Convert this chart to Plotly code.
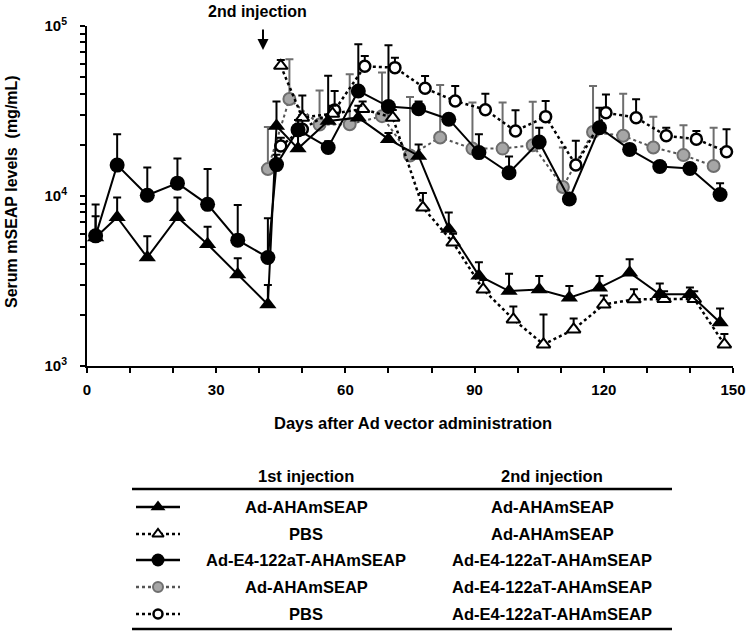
import plotly.graph_objects as go

# values (serum mSEAP, mg/mL) and upper SEM bars
days_tri = [2, 7, 14, 21, 28, 35, 42, 44, 49, 56, 63, 70, 77, 84, 91, 98, 105, 112, 119, 126, 133, 140, 147]
seap_tri = [5700, 7500, 4350, 7500, 5200, 3450, 2300, 25800, 19000, 27600, 28900, 21600, 17200, 6400,
            3400, 2760, 2820, 2520, 2890, 3540, 2640, 2640, 1800]
err_tri = [1900, 2300, 1450, 2300, 1400, 850, 700, 10200, 4000, 23400, 5100, 1900, 2900, 1600,
           670, 730, 560, 440, 490, 710, 420, 260, 380]

days_otri = [45, 50, 57, 64, 71, 78, 85, 92, 99, 106, 113, 120, 127, 134, 141, 148]
seap_otri = [58300, 28900, 30500, 32500, 28900, 8550, 5320, 2820, 1880, 1340, 1640, 2300, 2470, 2480, 2480, 1340]
err_otri = [4700, 10100, 3500, 3500, 3100, 1850, 680, 380, 360, 670, 260, 300, 360, 270, 270, 200]

days_circ = [2, 7, 14, 21, 28, 35, 42, 44, 49, 56, 63, 70, 77, 84, 91, 98, 105, 112, 119, 126, 133, 140, 147]
seap_circ = [5830, 15200, 10100, 11900, 8930, 5500, 4350, 15300, 24500, 19300, 41500, 33600, 32600, 28300,
             18000, 13700, 20800, 9600, 25200, 18800, 14900, 14500, 10200]
err_circ = [3070, 7900, 4600, 4700, 5470, 3350, 3050, 2200, 3500, 1700, 36500, 43400, 3400, 1700,
            5100, 3400, 4400, 600, 7800, 1200, 900, 1000, 1700]

days_gray = [42, 47, 54, 61, 68.5, 75, 82, 89.5, 96.5, 103.5, 110.5, 117.5, 124.5, 131.5, 138.5, 145.5]
seap_gray = [14400, 37200, 26300, 26400, 29500, 17300, 22100, 19000, 19000, 19900, 11300, 23800, 22600,
             19300, 17400, 15000]
err_gray = [11100, 26600, 15400, 25600, 23800, 20900, 22900, 16500, 16500, 15900, 8000, 20500, 17400,
            10000, 8700, 10200]

days_ocirc = [45, 50, 57.5, 64.5, 71.5, 78.5, 85.5, 92.5, 99.5, 106.5, 113.5, 120.5, 127.5, 134.5, 141.5, 148.5]
seap_ocirc = [19700, 24700, 32000, 57900, 56900, 43000, 36200, 32200, 24100, 29300, 15200, 30900, 28900,
              22600, 21600, 18200]
err_ocirc = [2300, 5300, 9500, 8800, 8200, 7800, 8100, 7800, 7800, 6900, 5900, 8700, 8200, 2600, 2500, 6500]

first_inj = ["Ad-AHAmSEAP", "PBS", "Ad-E4-122aT-AHAmSEAP", "Ad-AHAmSEAP", "PBS"]
second_inj = ["Ad-AHAmSEAP", "Ad-AHAmSEAP", "Ad-E4-122aT-AHAmSEAP", "Ad-E4-122aT-AHAmSEAP",
              "Ad-E4-122aT-AHAmSEAP"]

W, H = 747, 633
FONT = "Liberation Sans, Arial, sans-serif"
GRAY_ERR = "#6e6e6e"


def fx(px):
    return px / W


def fy(py):
    return 1 - py / H


# one style per group, in drawing order (bottom first)
styles = [
    dict(x=days_gray, y=seap_gray, e=err_gray, dash="dot", lc="#555555", lw=2, ec=GRAY_ERR,
         sym="circle", size=12, fill="#a6a6a6", mlc=GRAY_ERR, mlw=2, row=3),
    dict(x=days_ocirc, y=seap_ocirc, e=err_ocirc, dash="dot", lc="black", lw=2.5, ec="black",
         sym="circle", size=11, fill="white", mlc="black", mlw=2.5, row=4),
    dict(x=days_otri, y=seap_otri, e=err_otri, dash="dot", lc="black", lw=2.5, ec="black",
         sym="triangle-up", size=12, fill="white", mlc="black", mlw=2, row=1),
    dict(x=days_tri, y=seap_tri, e=err_tri, dash="solid", lc="black", lw=2, ec="black",
         sym="triangle-up", size=15, fill="black", mlc="black", mlw=0, row=0),
    dict(x=days_circ, y=seap_circ, e=err_circ, dash="solid", lc="black", lw=2, ec="black",
         sym="circle", size=15, fill="black", mlc="black", mlw=0, row=2),
]

fig = go.Figure()

for s in styles:
    fig.add_trace(go.Scatter(
        x=s["x"], y=s["y"], mode="lines+markers",
        line=dict(color=s["lc"], width=s["lw"], dash=s["dash"]),
        marker=dict(symbol=s["sym"], size=s["size"], color=s["fill"],
                    line=dict(color=s["mlc"], width=s["mlw"])),
        error_y=dict(type="data", symmetric=False, array=s["e"], arrayminus=[0] * len(s["e"]),
                     color=s["ec"], thickness=2, width=4),
        cliponaxis=False, hoverinfo="skip",
    ))

# legend table samples, drawn on a pixel-scaled helper axis
row_y = [507, 534, 560, 587, 614]
for s in styles:
    yy = row_y[s["row"]]
    fig.add_trace(go.Scatter(
        x=[136, 158, 180], y=[yy] * 3, xaxis="x2", yaxis="y2", mode="lines",
        line=dict(color=s["lc"], width=2.5, dash=s["dash"]),
        hoverinfo="skip",
    ))
    fig.add_trace(go.Scatter(
        x=[158], y=[yy], xaxis="x2", yaxis="y2", mode="markers",
        marker=dict(symbol=s["sym"], size=s["size"] - 2, color=s["fill"],
                    line=dict(color=s["mlc"], width=s["mlw"])),
        hoverinfo="skip",
    ))

ytick_vals = [m * 10 ** e for e in (3, 4) for m in range(1, 10)] + [100000]
ytick_text = ["10<sup>3</sup>" if v == 1000 else "10<sup>4</sup>" if v == 10000
              else "10<sup>5</sup>" if v == 100000 else "" for v in ytick_vals]
xtick_vals = list(range(0, 151, 10))
xtick_text = [str(v) if v % 30 == 0 else "" for v in xtick_vals]


def bold(size):
    return dict(family=FONT, size=size, color="black", weight="bold")


fig.update_layout(
    width=W, height=H, margin=dict(l=0, r=0, t=0, b=0),
    paper_bgcolor="white", plot_bgcolor="rgba(0,0,0,0)", showlegend=False,
    font=bold(15),
    xaxis=dict(domain=[fx(87), fx(733)], range=[0, 150], showline=True, linecolor="black",
               linewidth=2, ticks="outside", ticklen=5, tickwidth=2, tickcolor="black",
               tickvals=xtick_vals, ticktext=xtick_text, showgrid=False, zeroline=False,
               tickfont=bold(15), ticklabelstandoff=4, anchor="y", automargin=False),
    yaxis=dict(domain=[fy(366), fy(26)], type="log", range=[3, 5], showline=True, linecolor="black",
               linewidth=2, ticks="outside", ticklen=5, tickwidth=2, tickcolor="black",
               tickvals=ytick_vals, ticktext=ytick_text, showgrid=False, zeroline=False,
               tickfont=bold(15), ticklabelstandoff=10, anchor="x", automargin=False),
    xaxis2=dict(domain=[0, 1], range=[0, W], visible=False, anchor="y2", automargin=False),
    yaxis2=dict(domain=[0, fy(470)], range=[H, 470], visible=False, anchor="x2", automargin=False),
)

ann = []
ann.append(dict(text="Days after Ad vector administration", x=fx(413), y=fy(423), font=bold(16.5)))
ann.append(dict(text="Serum mSEAP levels&nbsp;&nbsp;(mg/mL)", x=fx(11), y=fy(192), textangle=-90,
                font=bold(16)))
ann.append(dict(text="2nd injection", x=fx(257), y=fy(11), font=bold(16)))
ann.append(dict(text="1st injection", x=fx(306), y=fy(476), font=bold(16.5)))
ann.append(dict(text="2nd injection", x=fx(552), y=fy(476), font=bold(16.5)))
for i in range(5):
    ann.append(dict(text=first_inj[i], x=fx(306), y=fy(row_y[i]), font=bold(16.5)))
    ann.append(dict(text=second_inj[i], x=fx(552), y=fy(row_y[i]), font=bold(16.5)))
for a in ann:
    fig.add_annotation(xref="paper", yref="paper", showarrow=False, xanchor="center",
                       yanchor="middle", **a)

# arrow marking the second injection
fig.add_annotation(xref="paper", yref="paper", x=fx(263), y=fy(50), ax=0, ay=-22, text="",
                   showarrow=True, arrowhead=2, arrowsize=1.1, arrowwidth=2, arrowcolor="black")

for yy in (489, 629):
    fig.add_shape(type="line", xref="paper", yref="paper", x0=fx(132), x1=fx(672),
                  y0=fy(yy), y1=fy(yy), line=dict(color="black", width=2.5))

# drop the browser's default body margin so the figure sits at the page corner
fig.write_html("out.html", config={"displayModeBar": False},
               post_script="document.body.style.margin = '0';")
